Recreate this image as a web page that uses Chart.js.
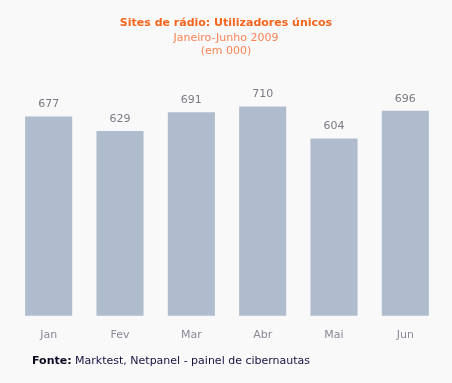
<!DOCTYPE html>
<html>
<head>
<meta charset="utf-8">
<script src="https://cdn.jsdelivr.net/npm/chart.js@4"></script>
<style>
  html,body{margin:0;padding:0;background:#f9f9f9;}
  #wrap{position:relative;width:452px;height:383px;background:#f9f9f9;overflow:hidden;}
  #c{position:absolute;left:0;top:0;}
  .t{position:absolute;left:0;width:452px;text-align:center;font-family:"DejaVu Sans",Verdana,sans-serif;}
  #title{top:16px;font-size:11px;font-weight:bold;color:#f6651c;}
  #sub1{top:31px;font-size:11px;color:#f98356;}
  #sub2{top:44px;font-size:11px;color:#f98356;}
  #fonte{position:absolute;left:32px;top:354px;font-family:"DejaVu Sans",Verdana,sans-serif;font-size:11px;color:#1a1040;}
  #fonte b{color:#0a0a20;}
</style>
</head>
<body>
<div id="wrap">
  <canvas id="c" width="452" height="383"></canvas>
  <div class="t" id="title">Sites de rádio: Utilizadores únicos</div>
  <div class="t" id="sub1">Janeiro-Junho 2009</div>
  <div class="t" id="sub2">(em 000)</div>
  <div id="fonte"><b>Fonte:</b> Marktest, Netpanel - painel de cibernautas</div>
</div>
<script>
const months = ["Jan","Fev","Mar","Abr","Mai","Jun"];
const users = [677, 629, 691, 710, 604, 696];

const valueLabels = {
  id: 'valueLabels',
  afterDatasetsDraw(chart) {
    const ctx = chart.ctx;
    const meta = chart.getDatasetMeta(0);
    ctx.save();
    ctx.font = '11px "DejaVu Sans", Verdana, sans-serif';
    ctx.fillStyle = '#7a7a86';
    ctx.textAlign = 'center';
    ctx.textBaseline = 'middle';
    meta.data.forEach((bar, i) => {
      ctx.fillText(String(users[i]), bar.x, bar.y - 12);
    });
    ctx.restore();
  }
};

new Chart(document.getElementById('c'), {
  type: 'bar',
  data: {
    labels: months,
    datasets: [{
      data: users,
      backgroundColor: '#afbccd',
      borderWidth: 0,
      categoryPercentage: 0.66,
      barPercentage: 1.0
    }]
  },
  options: {
    responsive: false,
    animation: false,
    devicePixelRatio: 1,
    layout: { padding: { left: 13, right: 11, top: 79.5, bottom: 28 } },
    plugins: { legend: { display: false }, tooltip: { enabled: false }, title: { display: false } },
    scales: {
      x: {
        grid: { display: false, drawTicks: false },
        border: { display: false },
        ticks: {
          padding: 13,
          color: '#8c8898',
          font: { family: '"DejaVu Sans", Verdana, sans-serif', size: 11 }
        }
      },
      y: {
        display: false,
        min: 15,
        max: 800
      }
    }
  },
  plugins: [valueLabels]
});
</script>
</body>
</html>
